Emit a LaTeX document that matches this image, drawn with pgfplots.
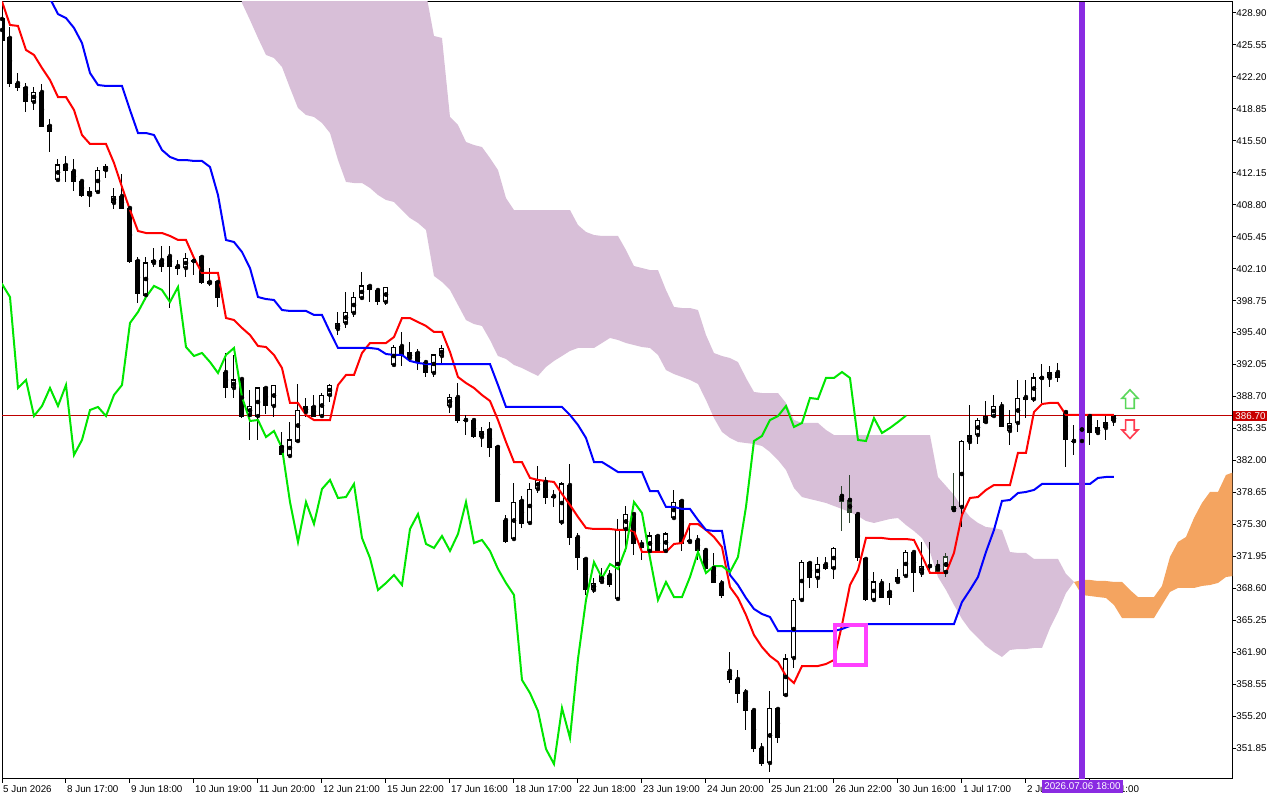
\documentclass[border=0pt]{standalone}
\usepackage{fontspec}
\setmainfont{Liberation Sans}
\usepackage{pgfplots}
\usepackage{pgfplotstable}
\pgfplotsset{compat=1.18}
\usepgfplotslibrary{fillbetween}

\definecolor{thistle}{RGB}{216,191,216}
\definecolor{sandy}{RGB}{244,164,96}
\definecolor{chikou}{RGB}{0,230,0}
\definecolor{bidred}{RGB}{190,0,0}
\definecolor{boxred}{RGB}{200,0,0}
\definecolor{bviolet}{RGB}{138,43,226}
\definecolor{rectmag}{RGB}{255,64,255}
\definecolor{arrgreen}{RGB}{90,215,90}
\definecolor{arrred}{RGB}{255,60,80}
\definecolor{incloud}{RGB}{45,65,45}

\pgfdeclareplotmark{arrowup}{%
  \pgfpathmoveto{\pgfpoint{0pt}{9.5pt}}%
  \pgfpathlineto{\pgfpoint{8pt}{1pt}}%
  \pgfpathlineto{\pgfpoint{4.3pt}{1pt}}%
  \pgfpathlineto{\pgfpoint{4.3pt}{-9pt}}%
  \pgfpathlineto{\pgfpoint{-4.3pt}{-9pt}}%
  \pgfpathlineto{\pgfpoint{-4.3pt}{1pt}}%
  \pgfpathlineto{\pgfpoint{-8pt}{1pt}}%
  \pgfpathclose\pgfusepathqstroke}
\pgfdeclareplotmark{arrowdown}{%
  \pgfpathmoveto{\pgfpoint{0pt}{-9.5pt}}%
  \pgfpathlineto{\pgfpoint{8pt}{-1pt}}%
  \pgfpathlineto{\pgfpoint{4.3pt}{-1pt}}%
  \pgfpathlineto{\pgfpoint{4.3pt}{9pt}}%
  \pgfpathlineto{\pgfpoint{-4.3pt}{9pt}}%
  \pgfpathlineto{\pgfpoint{-4.3pt}{-1pt}}%
  \pgfpathlineto{\pgfpoint{-8pt}{-1pt}}%
  \pgfpathclose\pgfusepathqstroke}

% candles: index open high low close
\pgfplotstableread{
i o h l c
0 428.27 429.21 425.54 425.96
1 426.28 427.43 421.14 421.46
2 421.56 422.61 420.72 421.04
3 421.04 421.56 418.52 419.57
4 419.57 421.14 418.73 420.62
5 420.62 421.46 416.95 416.95
6 417.06 417.79 414.33 416.43
7 411.40 413.60 411.40 412.97
8 412.97 413.91 411.19 412.34
9 412.34 413.60 410.24 411.19
10 411.29 411.40 409.61 409.82
11 409.82 410.66 408.57 410.24
12 410.14 412.76 410.03 412.44
13 412.44 413.07 411.61 412.86
14 408.99 410.56 408.36 409.72
15 409.72 412.02 408.36 408.36
16 408.46 408.46 402.70 402.80
17 402.91 403.33 398.51 399.45
18 399.34 403.33 398.82 402.70
19 402.70 404.27 402.28 403.01
20 403.01 404.48 401.75 402.28
21 403.43 404.48 397.98 402.28
22 402.38 403.01 401.44 402.17
23 402.17 403.75 401.23 403.22
24 402.91 403.33 401.44 402.91
25 403.33 403.54 400.50 400.60
26 400.71 402.17 400.29 400.50
27 400.71 400.71 398.09 399.13
28 391.27 393.26 388.55 389.60
29 389.60 393.06 388.55 390.44
30 390.54 390.65 386.45 386.66
31 386.77 389.39 384.15 387.71
32 386.66 389.60 384.15 389.60
33 389.60 389.70 386.87 387.71
34 387.71 389.91 386.56 389.91
35 383.42 384.99 382.58 382.58
36 382.47 386.03 382.26 384.15
37 384.04 390.02 383.94 387.29
38 387.08 388.55 386.56 387.61
39 387.61 388.86 386.56 386.66
40 386.66 389.07 386.56 388.86
41 388.86 390.02 388.13 389.91
42 395.78 397.56 395.15 396.41
43 396.41 399.66 395.89 397.56
44 397.46 399.66 397.04 399.13
45 399.03 401.75 398.82 400.29
46 400.29 400.39 398.61 399.87
47 399.87 399.97 398.30 398.61
48 398.61 400.18 398.30 400.18
49 392.01 394.10 391.90 393.89
50 394.00 395.47 391.90 392.95
51 392.74 394.42 392.32 393.27
52 393.27 393.68 391.49 392.32
53 392.32 392.53 390.75 391.17
54 391.17 393.06 390.75 393.06
55 392.95 394.10 392.22 393.79
56 387.71 388.97 386.98 388.65
57 388.65 390.12 385.93 386.14
58 386.24 386.77 384.67 386.24
59 386.24 386.24 384.36 384.46
60 384.46 385.51 383.42 385.09
61 385.20 386.03 382.37 383.31
62 383.42 383.42 377.65 377.65
63 375.76 376.29 373.35 373.46
64 373.77 379.64 373.67 377.65
65 377.76 378.28 374.93 375.35
66 375.45 379.64 375.24 379.01
67 379.01 381.42 378.59 379.96
68 379.75 380.27 377.44 378.07
69 378.28 378.91 377.13 378.17
70 375.55 379.75 375.24 379.54
71 379.43 381.63 373.14 373.88
72 373.98 374.40 370.52 371.78
73 371.68 371.78 367.90 368.43
74 368.43 369.69 368.11 369.16
75 369.27 370.73 369.16 370.00
76 370.00 370.52 368.74 368.95
77 367.49 375.87 367.49 374.82
78 374.82 377.23 372.41 376.39
79 376.39 376.50 372.10 373.25
80 373.25 373.67 371.57 372.83
81 372.52 374.51 372.41 374.09
82 374.09 374.30 372.41 372.52
83 372.52 374.51 372.41 374.30
84 375.97 378.91 375.87 377.65
85 377.76 377.76 372.52 373.35
86 373.46 375.34 373.35 373.67
87 373.67 374.19 371.57 372.52
88 372.62 372.83 370.31 370.63
89 370.73 372.31 369.16 369.16
90 369.16 369.48 367.59 367.90
91 359.94 361.93 358.68 359.00
92 359.10 360.04 356.59 357.63
93 357.74 358.05 353.76 355.75
94 355.85 355.96 351.45 351.77
95 351.87 352.39 349.98 350.19
96 350.30 357.84 349.35 356.06
97 355.96 355.96 352.39 352.92
98 357.42 361.72 357.21 361.20
99 361.30 367.59 360.25 367.38
100 367.38 371.57 367.17 371.36
101 371.26 371.47 368.64 369.69
102 369.69 371.89 368.64 371.15
103 371.15 371.89 370.52 370.63
104 370.73 372.93 369.58 372.83
105 378.28 379.33 374.61 377.65
106 377.86 380.48 375.45 376.50
107 376.39 376.39 371.47 371.78
108 371.68 371.68 367.28 367.38
109 367.38 370.31 367.28 369.27
110 369.16 369.58 367.69 367.69
111 368.22 369.16 366.86 367.69
112 369.27 370.63 369.16 369.79
113 369.90 372.62 369.79 372.41
114 372.41 372.52 368.22 370.21
115 370.21 373.46 369.79 370.94
116 370.94 373.46 370.21 370.94
117 370.94 371.57 370.21 370.31
118 370.31 372.31 369.79 371.89
119 376.81 380.69 376.81 377.13
120 377.13 384.15 375.03 384.04
121 383.94 387.82 383.10 384.57
122 384.67 386.45 383.73 386.24
123 386.03 388.24 385.93 386.66
124 386.66 388.86 386.56 387.71
125 387.71 388.13 385.51 385.51
126 385.09 387.29 383.62 385.93
127 385.93 390.44 384.99 388.55
128 388.65 390.44 386.45 388.44
129 388.44 391.17 388.13 390.65
130 390.65 392.11 388.03 390.65
131 390.65 391.90 389.70 391.27
132 391.27 392.22 390.23 390.65
133 387.08 387.08 381.32 384.15
134 384.04 385.72 382.58 384.04
135 384.04 386.66 383.62 386.45
136 386.66 386.66 383.62 384.88
137 384.88 386.24 384.67 385.41
138 385.41 386.66 384.15 386.03
139 386.14 386.77 385.62 386.70
}\candles

% Tenkan-sen (t) and Kijun-sen (k)
\pgfplotstableread{
i t k
0 430.10 435.50
1 427.64 435.00
2 427.54 434.00
3 425.02 433.00
4 424.50 432.00
5 423.13 431.20
6 421.88 430.40
7 420.09 428.79
8 420.09 428.37
9 418.73 427.33
10 416.11 425.75
11 415.17 422.61
12 415.17 421.35
13 415.17 421.25
14 413.18 421.25
15 410.66 421.25
16 408.25 418.73
17 406.05 416.32
18 405.84 416.32
19 405.84 416.11
20 405.84 414.54
21 405.53 413.81
22 405.11 413.49
23 405.11 413.49
24 403.22 413.39
25 401.65 413.39
26 401.65 412.76
27 401.65 409.82
28 396.93 405.11
29 396.72 404.90
30 395.89 403.85
31 395.15 402.17
32 394.00 399.13
33 393.89 398.92
34 393.06 398.82
35 391.69 397.77
36 388.03 397.67
37 388.03 397.67
38 386.77 397.67
39 386.24 397.25
40 386.24 397.25
41 386.24 395.47
42 389.91 393.79
43 390.96 393.79
44 390.96 393.79
45 393.26 393.79
46 394.31 393.79
47 394.31 393.69
48 394.31 393.16
49 394.94 393.06
50 396.93 393.06
51 396.93 392.43
52 396.51 392.22
53 396.10 392.11
54 395.47 392.11
55 395.47 392.11
56 393.37 392.11
57 390.75 392.11
58 390.12 392.11
59 389.60 392.11
60 388.86 392.11
61 388.24 392.11
62 386.24 389.91
63 383.94 387.61
64 381.84 387.61
65 381.84 387.61
66 380.17 387.61
67 379.96 387.61
68 379.85 387.61
69 379.75 387.61
70 378.49 387.61
71 377.34 386.77
72 376.08 385.72
73 374.93 384.36
74 374.82 381.84
75 374.82 381.84
76 374.82 381.32
77 374.72 380.79
78 374.72 380.79
79 374.61 380.79
80 372.41 380.79
81 372.41 378.80
82 372.41 378.80
83 372.41 377.13
84 373.25 377.13
85 373.35 376.92
86 375.34 376.92
87 375.34 375.76
88 374.72 374.72
89 373.98 374.61
90 372.93 374.61
91 368.74 370.00
92 367.59 368.95
93 365.81 367.59
94 363.71 366.44
95 362.45 365.91
96 361.51 365.60
97 360.88 364.13
98 359.42 364.13
99 358.68 364.13
100 360.46 364.13
101 360.46 364.13
102 360.46 364.13
103 360.67 364.13
104 361.09 364.13
105 364.76 364.34
106 368.95 364.66
107 370.52 364.86
108 373.88 364.86
109 373.88 364.86
110 373.88 364.86
111 373.77 364.86
112 373.77 364.86
113 373.77 364.86
114 373.67 364.86
115 371.99 364.86
116 370.21 364.86
117 370.21 364.86
118 370.21 364.86
119 372.31 364.86
120 376.29 367.17
121 378.07 368.43
122 378.17 369.79
123 378.91 372.41
124 379.43 374.72
125 379.43 377.76
126 379.43 377.86
127 382.79 378.59
128 382.79 378.70
129 387.08 378.91
130 387.92 379.54
131 388.03 379.54
132 388.03 379.54
133 386.77 379.54
134 386.77 379.54
135 386.77 379.54
136 386.77 379.54
137 386.77 380.17
138 386.77 380.27
139 386.77 380.27
}\lines

% bearish cloud (thistle): lower and upper edge
\pgfplotstableread{
i lo hi
30 429.95 432
31 428.16 432
32 426.28 432
33 424.50 432
34 424.18 432
35 423.24 432
36 421.04 432
37 418.94 432
38 418.21 432
39 418.00 432
40 417.37 432
41 416.32 432
42 413.49 432
43 411.19 432
44 411.08 432
45 411.08 432
46 410.56 432
47 409.82 432
48 409.30 432
49 409.09 432
50 408.25 432
51 407.41 432
52 406.89 432
53 406.16 431
54 401.34 426.49
55 400.71 426.28
56 399.87 418.00
57 398.30 417.16
58 396.72 415.38
59 396.30 415.06
60 396.10 414.85
61 394.63 413.70
62 392.95 412.44
63 392.64 409.51
64 392.01 408.25
65 391.69 408.25
66 391.27 408.25
67 390.86 408.25
68 391.80 408.25
69 392.43 408.25
70 392.95 408.25
71 393.48 408.25
72 393.79 406.68
73 393.79 405.95
74 393.79 405.63
75 394.31 405.53
76 394.84 405.53
77 394.63 405.53
78 394.31 404.06
79 394.10 402.38
80 393.89 402.17
81 393.79 401.96
82 393.06 401.96
83 391.48 399.87
84 391.06 398.09
85 390.75 397.98
86 390.44 397.98
87 390.02 397.77
88 388.34 395.15
89 386.45 393.26
90 384.99 392.95
91 384.36 392.74
92 383.94 392.32
93 383.83 390.65
94 383.73 389.18
95 383.52 389.07
96 382.89 389.07
97 382.05 389.07
98 381.00 388.03
99 379.12 386.24
100 378.17 385.93
101 377.96 385.93
102 377.76 385.93
103 377.55 385.20
104 377.23 384.67
105 376.92 384.67
106 376.60 384.67
107 376.18 384.67
108 375.66 384.67
109 375.45 384.67
110 375.66 384.67
111 375.87 384.67
112 375.97 384.67
113 375.24 384.67
114 374.61 384.67
115 373.88 384.67
116 372.41 384.67
117 369.79 380.27
118 368.43 379.33
119 366.86 378.38
120 365.39 377.13
121 364.24 376.08
122 363.40 375.45
123 362.56 375.03
124 361.93 374.93
125 361.41 374.72
126 362.14 372.41
127 362.24 372.31
128 362.24 372.31
129 362.35 371.68
130 362.35 371.68
131 364.45 371.68
132 366.12 371.68
133 368.11 370.11
134 369.27 369.27
}\cloudP

% bullish cloud (sandy brown): upper and lower edge
\pgfplotstableread{
i hi lo
134 369.27 369.27
135 369.48 367.90
136 369.48 367.80
137 369.37 367.69
138 369.37 367.59
139 369.27 366.86
140 369.27 365.49
141 368.43 365.49
142 367.69 365.49
143 367.69 365.49
144 367.69 365.49
145 368.85 366.86
146 371.89 368.22
147 373.46 368.64
148 373.98 368.64
149 375.97 368.64
150 377.55 368.85
151 378.70 368.95
152 378.70 369.16
153 380.48 369.79
154 380.79 369.90
}\cloudO

\begin{document}
\begin{tikzpicture}
\begin{axis}[
  at={(2pt,21pt)}, anchor=south west,
  width=1230.3pt, height=777pt, scale only axis,
  xmin=0, xmax=153.79, ymin=348.62, ymax=430.05,
  axis line style={black, line width=1pt},
  tick align=outside, major tick length=4pt,
  tick style={black, line width=1pt},
  xtick pos=bottom, ytick pos=right, yticklabel pos=right,
  xtick={0,8,16,24,32,40,48,56,64,72,80,88,96,104,112,120,128,136},
  xticklabels={5 Jun 2026,8 Jun 17:00,9 Jun 18:00,10 Jun 19:00,11 Jun 20:00,12 Jun 21:00,15 Jun 22:00,17 Jun 16:00,18 Jun 17:00,22 Jun 18:00,23 Jun 19:00,24 Jun 20:00,25 Jun 21:00,26 Jun 22:00,30 Jun 16:00,1 Jul 17:00,2 Jul 18:00,6 Jul 21:00},
  ytick={351.85,355.20,358.55,361.90,365.25,368.60,371.95,375.30,378.65,382.00,385.35,388.70,392.05,395.40,398.75,402.10,405.45,408.80,412.15,415.50,418.85,422.20,425.55,428.90},
  yticklabels={351.85,355.20,358.55,361.90,365.25,368.60,371.95,375.30,378.65,382.00,385.35,388.70,392.05,395.40,398.75,402.10,405.45,408.80,412.15,415.50,418.85,422.20,425.55,428.90},
  tick label style={font=\fontsize{9.8}{11}\selectfont, text=black},
  xticklabel style={anchor=north west, inner sep=0pt, xshift=1pt, yshift=-2pt},
  yticklabel style={anchor=west, inner sep=0pt, xshift=0pt},
  extra x ticks={135.06}, extra x tick labels={2026.07.06 18:00},
  extra x tick style={major tick length=0pt, xticklabel style={anchor=north, fill=bviolet, text=white, inner xsep=2.5pt, inner ysep=2.8pt, xshift=-1pt, yshift=1pt}},
  extra y ticks={386.70}, extra y tick labels={386.70},
  extra y tick style={major tick length=0pt, yticklabel style={fill=boxred, text=white, inner xsep=2pt, inner ysep=1.5pt, xshift=1pt}},
]
% Ichimoku cloud
\addplot[name path=pl, draw=none, forget plot] table[x=i, y=lo] {\cloudP};
\addplot[name path=ph, draw=none, forget plot] table[x=i, y=hi] {\cloudP};
\addplot[thistle, draw=none] fill between[of=pl and ph];
\addplot[name path=ol, draw=none, forget plot] table[x=i, y=lo] {\cloudO};
\addplot[name path=oh, draw=none, forget plot] table[x=i, y=hi] {\cloudO};
\addplot[sandy, draw=none] fill between[of=ol and oh];
% bid line
\addplot[bidred, line width=1pt] coordinates {(0,386.70) (153.79,386.70)};
% candle wicks
\addplot[only marks, mark=none, error bars/.cd, y dir=both, y explicit, error mark=none,
  error bar style={black, line width=1pt}]
  table[x=i, y=o, y error plus expr=\thisrow{h}-\thisrow{o}, y error minus expr=\thisrow{o}-\thisrow{l}] {\candles};
% candle bodies
\addplot[only marks, mark=none, error bars/.cd, y dir=both, y explicit, error mark=none,
  error bar style={black, line width=5pt}]
  table[x=i, y expr={(\thisrow{o}+\thisrow{c})/2}, y error expr={abs(\thisrow{c}-\thisrow{o})/2+0.05}] {\candles};
\addplot[only marks, mark=none, restrict expr to domain={\thisrow{c}-\thisrow{o}}{0.25:1000},
  error bars/.cd, y dir=both, y explicit, error mark=none,
  error bar style={white, line width=3pt}]
  table[x=i, y expr={(\thisrow{o}+\thisrow{c})/2}, y error expr={(\thisrow{c}-\thisrow{o})/2-0.1}] {\candles};
% candles that sit inside the cloud are shown in a dark green tone
\addplot[only marks, mark=none,
  restrict expr to domain={(\thisrow{i}==105)+(\thisrow{i}==106)+(\thisrow{i}==117)+(\thisrow{i}==118)+(\thisrow{i}==119)}{0.5:2},
  error bars/.cd, y dir=both, y explicit, error mark=none,
  error bar style={incloud, line width=1pt}]
  table[x=i, y=o, y error plus expr=\thisrow{h}-\thisrow{o}, y error minus expr=\thisrow{o}-\thisrow{l}] {\candles};
\addplot[only marks, mark=none,
  restrict expr to domain={(\thisrow{i}==105)+(\thisrow{i}==106)+(\thisrow{i}==117)+(\thisrow{i}==118)+(\thisrow{i}==119)}{0.5:2},
  error bars/.cd, y dir=both, y explicit, error mark=none,
  error bar style={incloud, line width=5pt}]
  table[x=i, y expr={(\thisrow{o}+\thisrow{c})/2}, y error expr={abs(\thisrow{c}-\thisrow{o})/2+0.05}] {\candles};
\addplot[only marks, mark=none,
  restrict expr to domain={((\thisrow{i}==118)+(\thisrow{i}==119))*(\thisrow{c}-\thisrow{o})}{0.25:1000},
  error bars/.cd, y dir=both, y explicit, error mark=none,
  error bar style={white, line width=3pt}]
  table[x=i, y expr={(\thisrow{o}+\thisrow{c})/2}, y error expr={(\thisrow{c}-\thisrow{o})/2-0.1}] {\candles};
% Tenkan, Kijun, Chikou
\addplot[red, line width=2pt] table[x=i, y=t] {\lines};
\addplot[blue, line width=2pt] table[x=i, y=k] {\lines};
\addplot[chikou, line width=2pt] table[x expr=\thisrow{i}-26, y=c] {\candles};
% rectangle object
\addplot[rectmag, line width=4pt, line cap=rect, line join=miter] coordinates {(104.09,364.73) (108.04,364.73) (108.04,360.60) (104.09,360.60) (104.09,364.73)};
% vertical line
\addplot[bviolet, line width=6pt] coordinates {(135.06,348.62) (135.06,430.05)};
% arrows
\addplot[only marks, mark=arrowup, mark options={draw=arrgreen, line width=1.6pt}] coordinates {(141,388.41)};
\addplot[only marks, mark=arrowdown, mark options={draw=arrred, line width=1.6pt}] coordinates {(141,385.30)};
\end{axis}
\pgfresetboundingbox
\path[use as bounding box] (0,0) rectangle (1280pt,800pt);
\end{tikzpicture}
\end{document}
